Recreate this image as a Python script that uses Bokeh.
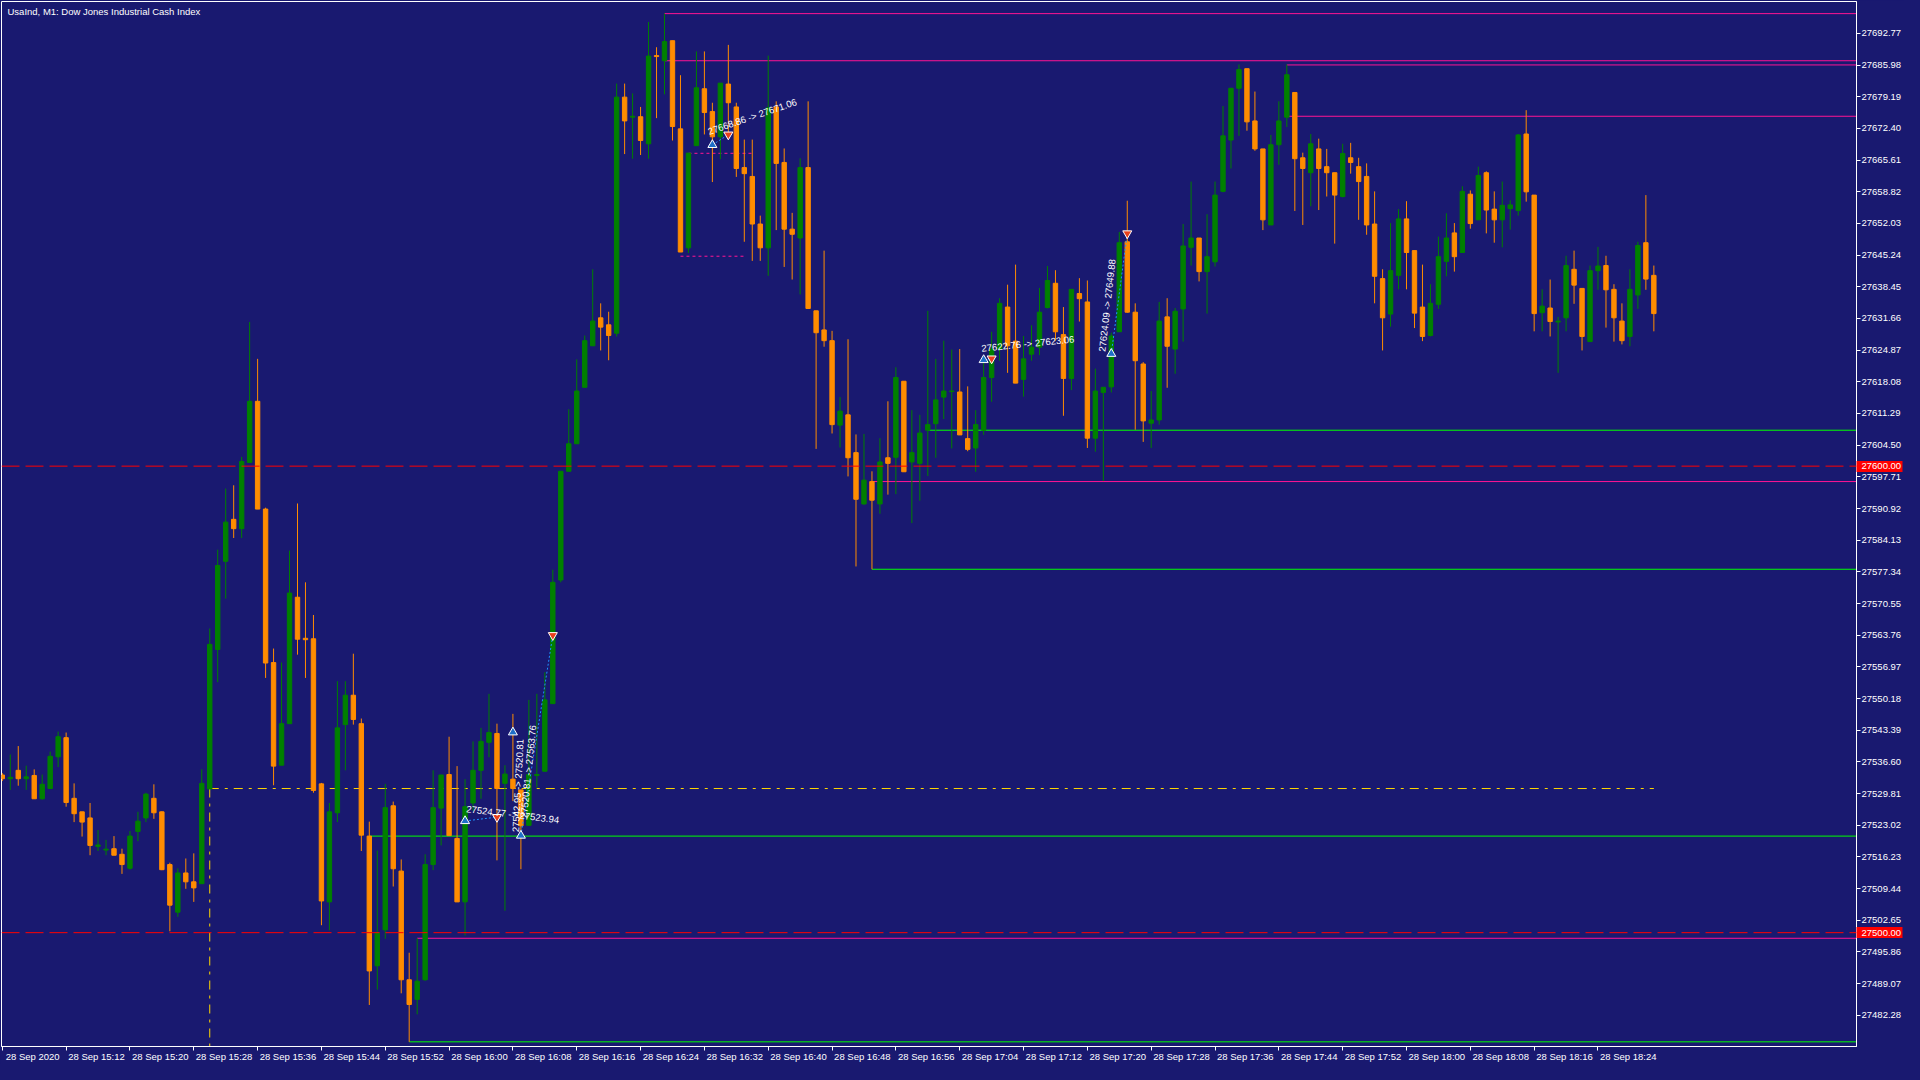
from bokeh.plotting import figure
from bokeh.models import FixedTicker, Label, Span, NumeralTickFormatter, GlobalInlineStyleSheet
from bokeh.core.properties import value
from bokeh.embed import file_html
from bokeh.resources import INLINE

# UsaInd M1, 28 Sep 2020, one bar per minute from 15:04 to 18:31
opens = [
    27533.8, 27533.0, 27534.8, 27533.0, 27533.7, 27528.7, 27530.9, 27537.7, 27541.8, 27528.8,
    27525.9, 27524.6, 27518.5, 27517.7, 27518.0, 27516.8, 27513.8, 27521.7, 27524.6, 27528.8,
    27525.9, 27514.6, 27504.4, 27512.8, 27510.9, 27510.5, 27530.8, 27560.7, 27579.6, 27588.6,
    27586.6, 27600.8, 27613.9, 27590.8, 27557.9, 27535.9, 27544.8, 27571.9, 27563.1, 27563.0,
    27531.9, 27506.6, 27525.7, 27544.6, 27550.9, 27544.8, 27520.7, 27492.9, 27500.6, 27527.2,
    27513.2, 27489.9, 27485.7, 27489.9, 27514.6, 27526.7, 27533.9, 27520.2, 27506.6, 27527.8,
    27534.8, 27540.8, 27542.7, 27532.0, 27532.9, 27530.6, 27523.0, 27533.7, 27534.6, 27549.1,
    27575.6, 27598.9, 27604.8, 27616.9, 27625.8, 27631.8, 27630.3, 27628.5, 27679.1, 27674.8,
    27674.9, 27669.1, 27688.0, 27686.9, 27691.2, 27672.3, 27646.8, 27668.7, 27680.9, 27676.0,
    27670.6, 27681.9, 27677.0, 27664.0, 27662.1, 27651.9, 27646.8, 27677.0, 27665.1, 27650.8,
    27648.9, 27664.0, 27633.3, 27629.2, 27626.9, 27608.8, 27611.0, 27602.9, 27591.9, 27596.7,
    27591.9, 27601.8, 27601.9, 27618.2, 27600.9, 27600.6, 27607.7, 27609.1, 27614.8, 27616.0,
    27615.9, 27605.9, 27603.9, 27607.7, 27619.0, 27625.1, 27634.1, 27626.8, 27618.6, 27624.0,
    27625.5, 27634.0, 27639.2, 27628.2, 27618.8, 27637.0, 27635.2, 27606.0, 27615.8, 27617.0,
    27628.8, 27648.1, 27633.0, 27621.9, 27609.2, 27609.9, 27632.0, 27625.1, 27633.7, 27646.9,
    27648.9, 27641.7, 27643.8, 27658.9, 27669.9, 27681.0, 27685.2, 27674.0, 27668.0, 27651.7,
    27668.9, 27674.8, 27680.1, 27666.1, 27662.9, 27668.0, 27664.2, 27662.9, 27657.8, 27666.1,
    27664.2, 27662.1, 27651.9, 27640.2, 27632.6, 27640.9, 27653.0, 27646.2, 27634.1, 27628.0,
    27634.7, 27643.9, 27650.0, 27645.8, 27658.3, 27652.8, 27662.9, 27655.1, 27652.8, 27655.2,
    27654.8, 27671.2, 27658.1, 27632.9, 27633.9, 27630.9, 27631.8, 27642.2, 27638.1, 27626.7,
    27641.9, 27643.0, 27637.9, 27631.1, 27627.8, 27636.7, 27647.9, 27640.9,
]
highs = [
    27534.2, 27538.2, 27540.0, 27535.8, 27535.0, 27533.9, 27538.8, 27543.1, 27542.9, 27532.0,
    27525.9, 27527.8, 27522.0, 27519.9, 27520.7, 27518.0, 27521.8, 27525.9, 27530.0, 27531.8,
    27526.0, 27515.0, 27513.8, 27515.9, 27517.0, 27535.0, 27565.2, 27582.1, 27595.2, 27595.9,
    27602.0, 27630.9, 27623.0, 27591.1, 27560.9, 27557.9, 27581.9, 27592.0, 27575.1, 27568.1,
    27532.1, 27527.8, 27553.9, 27553.9, 27559.8, 27545.9, 27523.8, 27517.6, 27531.9, 27528.1,
    27515.7, 27495.7, 27498.8, 27516.8, 27534.8, 27533.8, 27542.0, 27535.7, 27532.9, 27541.0,
    27543.9, 27551.2, 27544.8, 27535.9, 27546.9, 27530.6, 27549.9, 27551.2, 27555.8, 27577.8,
    27598.9, 27612.2, 27622.9, 27628.0, 27642.2, 27634.9, 27633.1, 27682.0, 27682.0, 27679.9,
    27677.0, 27695.2, 27689.8, 27697.0, 27691.2, 27683.8, 27667.1, 27688.9, 27688.9, 27677.9,
    27682.1, 27690.3, 27677.9, 27670.0, 27670.0, 27653.7, 27688.0, 27678.2, 27668.1, 27654.3,
    27666.0, 27678.2, 27633.3, 27646.2, 27629.0, 27614.8, 27627.2, 27606.8, 27606.9, 27598.9,
    27606.0, 27613.9, 27621.2, 27618.2, 27612.0, 27611.0, 27633.3, 27623.0, 27626.9, 27625.0,
    27625.1, 27617.1, 27612.0, 27622.3, 27628.8, 27636.0, 27638.9, 27643.2, 27627.9, 27630.2,
    27638.2, 27642.9, 27642.0, 27634.1, 27637.9, 27640.3, 27639.8, 27620.9, 27616.9, 27628.6,
    27650.2, 27656.9, 27634.9, 27622.3, 27616.1, 27635.2, 27636.0, 27633.9, 27651.9, 27661.0,
    27648.9, 27654.0, 27661.0, 27677.2, 27681.0, 27686.1, 27685.2, 27680.3, 27668.0, 27671.0,
    27678.2, 27686.1, 27680.1, 27667.2, 27671.2, 27670.2, 27668.0, 27662.9, 27669.1, 27669.3,
    27666.1, 27664.9, 27658.9, 27642.2, 27652.1, 27655.1, 27656.8, 27646.2, 27643.2, 27639.0,
    27649.2, 27654.2, 27652.1, 27660.0, 27659.1, 27664.2, 27663.2, 27658.9, 27661.0, 27657.0,
    27671.2, 27676.3, 27658.1, 27637.9, 27640.0, 27632.0, 27645.1, 27646.2, 27638.1, 27643.0,
    27647.0, 27645.1, 27639.0, 27634.9, 27642.2, 27648.1, 27658.1, 27643.0,
]
lows = [
    27532.5, 27530.6, 27531.5, 27530.6, 27528.7, 27528.5, 27530.9, 27535.5, 27527.0, 27523.7,
    27520.6, 27516.6, 27517.5, 27516.6, 27516.6, 27512.6, 27513.5, 27519.6, 27523.7, 27524.4,
    27513.4, 27500.3, 27503.4, 27509.4, 27506.6, 27510.5, 27530.8, 27553.7, 27571.6, 27584.6,
    27584.6, 27600.8, 27590.8, 27554.6, 27531.6, 27535.9, 27544.8, 27559.6, 27554.6, 27530.0,
    27501.6, 27500.5, 27523.7, 27534.8, 27544.6, 27517.5, 27484.5, 27487.8, 27498.7, 27509.9,
    27487.0, 27476.6, 27482.5, 27489.7, 27513.4, 27518.7, 27520.8, 27506.6, 27499.4, 27526.1,
    27528.7, 27537.6, 27515.5, 27504.7, 27528.2, 27513.6, 27523.0, 27531.1, 27534.6, 27549.1,
    27575.1, 27598.9, 27604.8, 27616.9, 27625.8, 27624.8, 27622.7, 27627.8, 27666.9, 27665.9,
    27666.7, 27665.9, 27674.6, 27679.7, 27669.8, 27645.9, 27645.7, 27668.7, 27671.1, 27660.9,
    27665.8, 27670.9, 27662.0, 27648.1, 27644.0, 27644.0, 27640.8, 27650.6, 27642.7, 27640.0,
    27636.8, 27633.8, 27603.7, 27625.6, 27607.0, 27604.0, 27597.8, 27578.5, 27591.7, 27577.9,
    27589.8, 27593.9, 27594.0, 27598.8, 27587.8, 27592.6, 27597.9, 27601.8, 27610.1, 27603.8,
    27606.7, 27603.2, 27598.8, 27606.7, 27613.8, 27622.6, 27620.0, 27617.8, 27614.9, 27622.6,
    27623.8, 27633.8, 27626.9, 27610.8, 27616.3, 27631.0, 27603.9, 27603.1, 27596.8, 27615.8,
    27628.8, 27632.9, 27607.8, 27605.2, 27603.9, 27608.9, 27616.8, 27619.8, 27626.7, 27643.0,
    27639.6, 27632.7, 27642.8, 27658.7, 27663.8, 27670.8, 27671.9, 27667.6, 27650.6, 27651.7,
    27664.6, 27672.7, 27654.7, 27651.7, 27655.7, 27654.9, 27657.8, 27647.7, 27657.6, 27662.7,
    27652.8, 27649.6, 27634.9, 27624.8, 27629.9, 27637.9, 27637.9, 27629.6, 27626.8, 27627.8,
    27633.7, 27640.7, 27641.7, 27645.8, 27650.9, 27652.8, 27649.9, 27647.9, 27646.9, 27650.7,
    27653.7, 27656.7, 27628.9, 27628.9, 27627.8, 27620.0, 27628.9, 27634.8, 27624.8, 27626.7,
    27637.8, 27629.7, 27626.7, 27626.1, 27625.7, 27633.7, 27637.8, 27628.9,
]
closes = [
    27533.0, 27533.3, 27533.0, 27533.4, 27528.7, 27531.8, 27537.8, 27542.0, 27527.9, 27525.5,
    27523.7, 27518.7, 27518.8, 27517.9, 27516.6, 27514.6, 27520.7, 27523.9, 27529.7, 27525.7,
    27513.5, 27505.9, 27512.8, 27510.9, 27509.6, 27532.0, 27561.8, 27578.7, 27588.0, 27586.6,
    27601.0, 27613.9, 27590.8, 27557.8, 27535.7, 27544.8, 27572.8, 27562.9, 27562.8, 27530.5,
    27506.8, 27525.9, 27543.9, 27550.9, 27545.7, 27520.9, 27491.8, 27500.0, 27526.8, 27513.7,
    27489.9, 27484.6, 27489.6, 27514.6, 27526.8, 27533.8, 27520.8, 27506.6, 27527.0, 27534.8,
    27541.0, 27542.9, 27530.9, 27534.0, 27530.9, 27522.9, 27533.9, 27533.9, 27549.9, 27575.1,
    27598.9, 27604.8, 27616.1, 27626.9, 27631.1, 27629.8, 27628.0, 27679.1, 27674.0, 27675.0,
    27669.8, 27687.9, 27687.8, 27691.0, 27672.8, 27645.9, 27667.1, 27681.1, 27675.8, 27670.6,
    27682.1, 27677.9, 27663.8, 27662.7, 27651.9, 27646.8, 27676.8, 27664.9, 27650.8, 27649.7,
    27664.0, 27633.8, 27628.6, 27626.9, 27608.9, 27611.8, 27601.8, 27592.9, 27597.0, 27592.7,
    27600.9, 27600.6, 27619.0, 27598.8, 27602.9, 27607.1, 27608.9, 27614.2, 27616.1, 27616.1,
    27606.7, 27603.6, 27608.9, 27619.0, 27625.1, 27634.9, 27625.8, 27617.8, 27623.0, 27625.5,
    27633.0, 27639.8, 27628.8, 27618.8, 27637.9, 27635.9, 27606.0, 27616.1, 27616.9, 27627.9,
    27647.9, 27633.0, 27622.6, 27609.7, 27609.9, 27631.1, 27625.7, 27633.2, 27647.2, 27648.9,
    27641.7, 27644.9, 27658.1, 27670.8, 27681.0, 27685.0, 27673.8, 27668.0, 27652.8, 27668.9,
    27674.0, 27683.9, 27665.9, 27663.8, 27669.1, 27663.8, 27662.9, 27658.1, 27667.0, 27665.1,
    27661.0, 27651.7, 27640.7, 27631.8, 27641.9, 27653.0, 27645.8, 27632.8, 27627.8, 27634.9,
    27644.9, 27648.9, 27644.9, 27658.9, 27652.0, 27662.3, 27654.9, 27652.8, 27655.9, 27656.0,
    27671.0, 27658.8, 27632.7, 27634.3, 27631.0, 27631.1, 27643.0, 27638.8, 27627.8, 27641.9,
    27642.9, 27637.8, 27631.8, 27626.9, 27637.9, 27647.3, 27640.1, 27632.7,
]

# time axis: one label every 8 bars
x_tick_labels = [
    "28 Sep 2020", "28 Sep 15:12", "28 Sep 15:20", "28 Sep 15:28", "28 Sep 15:36",
    "28 Sep 15:44", "28 Sep 15:52", "28 Sep 16:00", "28 Sep 16:08", "28 Sep 16:16",
    "28 Sep 16:24", "28 Sep 16:32", "28 Sep 16:40", "28 Sep 16:48", "28 Sep 16:56",
    "28 Sep 17:04", "28 Sep 17:12", "28 Sep 17:20", "28 Sep 17:28", "28 Sep 17:36",
    "28 Sep 17:44", "28 Sep 17:52", "28 Sep 18:00", "28 Sep 18:08", "28 Sep 18:16",
    "28 Sep 18:24",
]
y_tick_labels = [
    "27482.28", "27489.07", "27495.86", "27502.65", "27509.44", "27516.23", "27523.02",
    "27529.81", "27536.60", "27543.39", "27550.18", "27556.97", "27563.76", "27570.55",
    "27577.34", "27584.13", "27590.92", "27597.71", "27604.50", "27611.29", "27618.08",
    "27624.87", "27631.66", "27638.45", "27645.24", "27652.03", "27658.82", "27665.61",
    "27672.40", "27679.19", "27685.98", "27692.77",
]

# horizontal levels (price, first bar)
alert_levels = [27600.0, 27500.0]
pink_levels = [27697.0, 27686.9, 27686.0, 27675.0, 27596.7, 27498.8]
pink_starts = [83, 83, 161, 161, 109, 52]
green_levels = [27607.7, 27577.9, 27520.7, 27476.6]
green_starts = [116, 109, 46, 51]
box_levels = [27667.06, 27645.0]
box_starts = [86, 85]
box_ends = [94, 93]
cross_bar = 26
cross_price = 27530.9
cross_end = 207

# trades
buy_bars = [58, 64, 65, 89, 123, 139]
buy_prices = [27523.94, 27542.95, 27520.81, 27668.86, 27622.76, 27624.09]
sell_bars = [62, 69, 91, 124, 141]
sell_prices = [27524.77, 27563.76, 27671.06, 27623.06, 27649.88]
link_from = [58, 65, 89, 123, 139]
link_from_px = [27523.94, 27520.81, 27668.86, 27622.76, 27624.09]
link_to = [62, 69, 91, 124, 141]
link_to_px = [27524.77, 27563.76, 27671.06, 27623.06, 27649.88]
trade_texts = ["27524.77 -> 27523.94", "27542.95 -> 27520.81", "27520.81 -> 27563.76",
               "27668.86 -> 27671.06", "27622.76 -> 27623.06", "27624.09 -> 27649.88"]
trade_text_x = [58.1, 65.0, 66.0, 88.7, 122.8, 138.5]
trade_text_y = [27525.4, 27521.5, 27524.5, 27670.6, 27624.1, 27624.4]
trade_text_angle = [-0.12, 1.52, 1.47, 0.33, 0.1, 1.46]

BG = "#191970"
UP = "#008000"
DOWN = "#ff8c00"
FONT = "Liberation Sans"
X0, X1 = -0.1, 232.4
Y0, Y1 = 27475.6, 27699.6

idx = list(range(len(opens)))
colors = [UP if c > o else DOWN for o, c in zip(opens, closes)]
tops = [max(o, c) for o, c in zip(opens, closes)]
bottoms = [min(o, c) for o, c in zip(opens, closes)]

p = figure(width=1904, height=1064, x_range=(X0, X1), y_range=(Y0, Y1),
           y_axis_location="right", output_backend="svg", toolbar_location=None,
           background_fill_color=BG, border_fill_color=BG,
           min_border_left=1, min_border_top=1, min_border_right=48, min_border_bottom=16)
p.stylesheets = [GlobalInlineStyleSheet(css="body { background: #191970; }")]
p.outline_line_color = "white"
p.xgrid.visible = False
p.ygrid.visible = False

for ax in (p.xaxis[0], p.yaxis[0]):
    ax.axis_line_color = "white"
    ax.major_tick_line_color = "white"
    ax.major_tick_in = 0
    ax.major_tick_out = 4
    ax.minor_tick_in = 0
    ax.major_label_text_color = "white"
    ax.major_label_text_font = FONT
    ax.major_label_text_font_size = "9.5px"
    ax.major_label_standoff = 2

# x axis: minor ticks mark the bars, labels (major) start just right of each mark
x_ticks = [8 * k for k in range(len(x_tick_labels))]
label_ticks = [t + 3.8 for t in x_ticks]
p.xaxis.ticker = FixedTicker(ticks=label_ticks, minor_ticks=x_ticks)
p.xaxis.major_label_overrides = dict(zip(label_ticks, x_tick_labels))
p.xaxis.major_tick_line_color = None
p.xaxis.major_tick_out = 0
p.xaxis.major_label_standoff = 0
p.xaxis.minor_tick_out = 4
p.xaxis.minor_tick_line_color = "white"

# y axis: price ticks, plus red tags (wide minor ticks) under the alert prices
p.yaxis.ticker = FixedTicker(ticks=[float(s) for s in y_tick_labels] + alert_levels,
                             minor_ticks=alert_levels)
p.yaxis.formatter = NumeralTickFormatter(format="0.00")
p.yaxis.minor_tick_out = 46
p.yaxis.minor_tick_line_width = 11
p.yaxis.minor_tick_line_color = "#ff0000"
p.yaxis.major_label_standoff = -41

# levels
for lv in alert_levels:
    p.add_layout(Span(location=lv, dimension="width", line_color="#ff0000",
                      line_dash="18 6", line_width=1))
p.segment(x0=pink_starts, y0=pink_levels, x1=[X1] * len(pink_levels), y1=pink_levels,
          line_color="#ff1493", line_width=1)
p.segment(x0=green_starts, y0=green_levels, x1=[X1] * len(green_levels), y1=green_levels,
          line_color="#00ff00", line_width=1)
p.segment(x0=box_starts, y0=box_levels, x1=box_ends, y1=box_levels,
          line_color="#ff1493", line_width=1, line_dash="3 3")
p.segment(x0=[cross_bar, cross_bar], y0=[cross_price, cross_price],
          x1=[cross_end, cross_bar], y1=[cross_price, Y0],
          line_color="#ffd700", line_width=1, line_dash="9 6 3 6")

# candles
p.segment(x0=idx, y0=lows, x1=idx, y1=highs, line_color=colors, line_width=1)
p.vbar(x=idx, width=0.55, top=tops, bottom=bottoms, fill_color=colors, line_color=colors)

# trades
p.segment(x0=link_from, y0=link_from_px, x1=link_to, y1=link_to_px,
          line_color="#1e90ff", line_width=1, line_dash="2 2")
p.scatter(buy_bars, buy_prices, marker="triangle", size=9,
          fill_color="#1e6fc8", line_color="white", line_width=1)
p.scatter(sell_bars, sell_prices, marker="inverted_triangle", size=9,
          fill_color="#e8401c", line_color="white", line_width=1)
p.text(x=trade_text_x, y=trade_text_y, text=trade_texts, angle=trade_text_angle,
       text_color="white", text_font=value(FONT), text_font_size="9.5px",
       text_baseline="bottom", text_align="left")

p.add_layout(Label(x=X0, y=Y1, x_offset=6, y_offset=-4,
                   text="UsaInd, M1:  Dow Jones Industrial Cash Index",
                   text_baseline="top", text_color="white", text_font=FONT,
                   text_font_size="9.5px"))

open("out.html", "w").write(file_html(p, INLINE))
